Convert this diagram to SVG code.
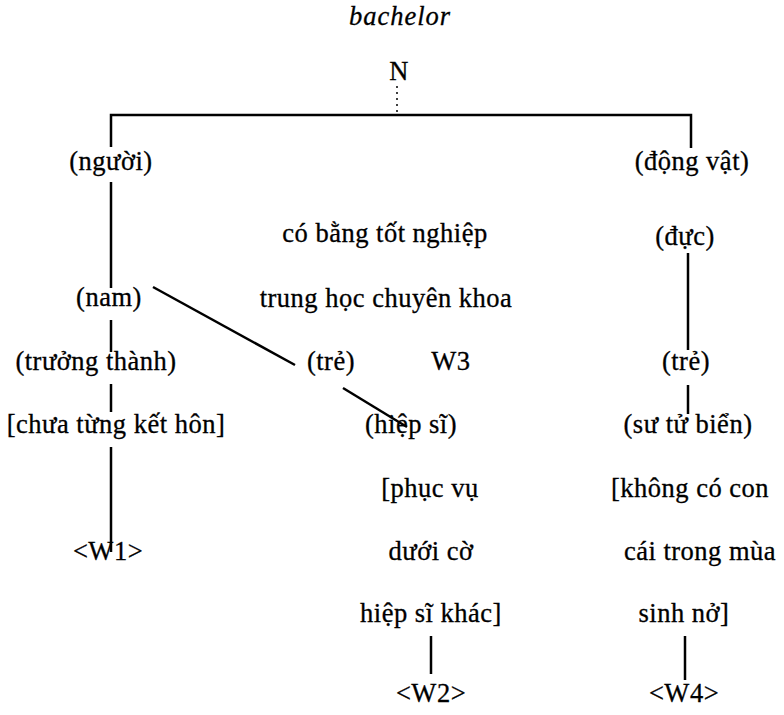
<svg xmlns="http://www.w3.org/2000/svg" width="784" height="715" viewBox="0 0 784 715">
<style>
text{font-family:"Liberation Serif","Times New Roman",serif;font-size:26.5px;letter-spacing:0.5px;fill:#000;stroke:#000;stroke-width:0.3;text-anchor:middle}
.it{font-style:italic;letter-spacing:1px}
.ln{stroke:#000;stroke-width:2.5;fill:none}
.dot{stroke:#000;stroke-width:1.5;stroke-dasharray:2 4;fill:none}
</style>
<rect width="784" height="715" fill="#fff"/>
<g id="connectors">
<path class="dot" d="M397 86V114"/>
<path class="ln" d="M111 147V115H691V148"/>
<path class="ln" d="M111 182V288"/>
<path class="ln" d="M688 253V350"/>
<path class="ln" d="M153 287L295 365"/>
<path class="ln" d="M111 320V352"/>
<path class="ln" d="M343 388L407 427"/>
<path class="ln" d="M111 384V412"/>
<path class="ln" d="M688 385V414"/>
<path class="ln" d="M111 447V552"/>
<path class="ln" d="M431 636V674"/>
<path class="ln" d="M685 636V680"/>
</g>
<g id="title"><text class="it" x="400" y="25">bachelor</text></g>
<g id="n-root"><text x="399" y="80">N</text></g>
<g id="n-nguoi"><text x="111" y="170">(người)</text></g>
<g id="n-dongvat"><text x="692" y="170">(động vật)</text></g>
<g id="n-cobang"><text x="385" y="242">có bằng tốt nghiệp</text></g>
<g id="n-duc"><text x="685" y="245">(đực)</text></g>
<g id="n-nam"><text x="109" y="306">(nam)</text></g>
<g id="n-trunghoc"><text x="386" y="307">trung học chuyên khoa</text></g>
<g id="n-truongthanh"><text x="96" y="370">(trưởng thành)</text></g>
<g id="n-tre1"><text x="331" y="370">(trẻ)</text></g>
<g id="n-w3"><text x="451" y="370">W3</text></g>
<g id="n-tre2"><text x="686" y="370">(trẻ)</text></g>
<g id="n-chuatung"><text x="116" y="433">[chưa từng kết hôn]</text></g>
<g id="n-hiepsi"><text x="411" y="433">(hiệp sĩ)</text></g>
<g id="n-sutu"><text x="688" y="433">(sư tử biển)</text></g>
<g id="n-w1"><text x="108" y="560">&lt;W1&gt;</text></g>
<g id="n-phucvu"><text x="430" y="497">[phục vụ</text><text x="431" y="560">dưới cờ</text><text x="431" y="622">hiệp sĩ khác]</text></g>
<g id="n-w2"><text x="431" y="702">&lt;W2&gt;</text></g>
<g id="n-khongco"><text x="690" y="497">[không có con</text><text x="700" y="560">cái trong mùa</text><text x="684" y="622">sinh nở]</text></g>
<g id="n-w4"><text x="684" y="702">&lt;W4&gt;</text></g>
</svg>
